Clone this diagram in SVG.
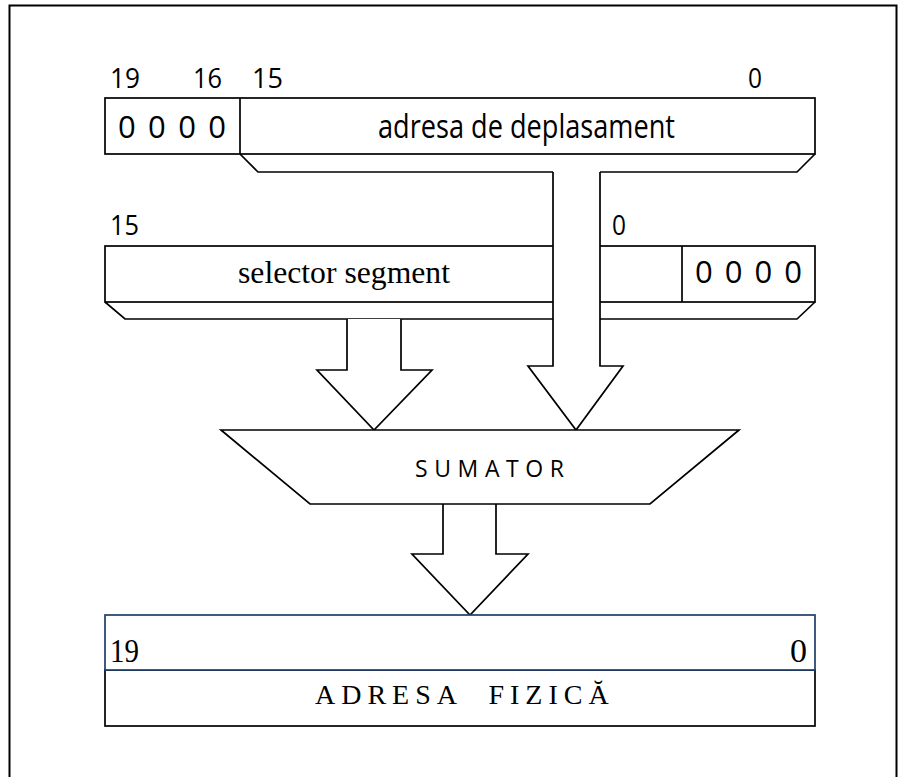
<svg xmlns="http://www.w3.org/2000/svg" width="898" height="777" viewBox="0 0 898 777">
<style>
.ln{fill:none;stroke:#000;stroke-width:1.7;stroke-linejoin:miter}
.bx{fill:#fff;stroke:#000;stroke-width:1.7}
.wf{fill:#fff;stroke:none}
.sans{font-family:"Open Sans","Noto Sans","Liberation Sans",sans-serif;fill:#000}
.serif{font-family:"Liberation Serif","Times New Roman",serif;fill:#000}
</style>
<rect width="898" height="777" fill="#fff"/>
<g id="frame">
<path d="M9.5,777 V5.5 H896.5 V777" fill="none" stroke="#000" stroke-width="2"/>
</g>
<g id="offset-register">
<rect class="bx" x="105" y="98" width="710" height="56"/>
<line class="ln" x1="240" y1="98" x2="240" y2="154"/>
<path class="ln" d="M240,154 L258,172 H797 L815,154"/>
<text class="sans" x="110" y="88" font-size="27" textLength="30" lengthAdjust="spacingAndGlyphs">19</text>
<text class="sans" x="193" y="88" font-size="27" textLength="29" lengthAdjust="spacingAndGlyphs">16</text>
<text class="sans" x="252" y="88" font-size="27" textLength="31" lengthAdjust="spacingAndGlyphs">15</text>
<text class="sans" x="748" y="88" font-size="27" textLength="14" lengthAdjust="spacingAndGlyphs">0</text>
<text class="sans" x="118" y="138" font-size="31" textLength="108">0 0 0 0</text>
<text class="sans" x="378" y="138" font-size="32" textLength="297" lengthAdjust="spacingAndGlyphs">adresa de deplasament</text>
</g>
<g id="segment-register">
<rect class="bx" x="105" y="246" width="710" height="56"/>
<line class="ln" x1="682" y1="246" x2="682" y2="302"/>
<path class="ln" d="M105,302 L125,319 H797 L815,302"/>
<text class="sans" x="110" y="235" font-size="27" textLength="29" lengthAdjust="spacingAndGlyphs">15</text>
<text class="sans" x="612" y="235" font-size="27" textLength="14" lengthAdjust="spacingAndGlyphs">0</text>
<text class="sans" x="695" y="283" font-size="31" textLength="107">0 0 0 0</text>
<text class="serif" x="238" y="283" font-size="31" textLength="212" lengthAdjust="spacingAndGlyphs">selector segment</text>
</g>
<g id="connectors">
<g id="arrow-offset">
<path class="wf" d="M553,171 H600 V366 H623 L576,430 L528,366 H553 Z"/>
<path class="ln" d="M553,172 V366 H528 L576,430 L623,366 H600 V172"/>
</g>
<g id="arrow-segment">
<path class="wf" d="M347,319 H401 V370 H432 L374,430 L317,370 H347 Z"/>
<path class="ln" d="M347,319 V370 H317 L374,430 L432,370 H401 V319"/>
</g>
<g id="arrow-sum">
<path class="wf" d="M443,504 H496 V554 H528 L470,615 L412,554 H443 Z"/>
<path class="ln" d="M443,504 V554 H412 L470,615 L528,554 H496 V504"/>
</g>
</g>
<g id="sumator">
<path class="bx" d="M221,430 H739 L650,504 H310 Z"/>
<text class="sans" x="415" y="477" font-size="23" textLength="149">SUMATOR</text>
</g>
<g id="physical-address">
<rect x="105" y="670" width="710" height="56" fill="#fff" stroke="#000" stroke-width="1.7"/>
<rect x="105" y="615" width="710" height="55" fill="#fff" stroke="#1f3f6b" stroke-width="1.7"/>
<text class="serif" x="110" y="662" font-size="33" textLength="29" lengthAdjust="spacingAndGlyphs">19</text>
<text class="serif" x="790" y="662" font-size="33" textLength="17" lengthAdjust="spacingAndGlyphs">0</text>
<text class="serif" x="315" y="704" font-size="28" letter-spacing="6" word-spacing="14">ADRESA FIZICĂ</text>
</g>
</svg>
